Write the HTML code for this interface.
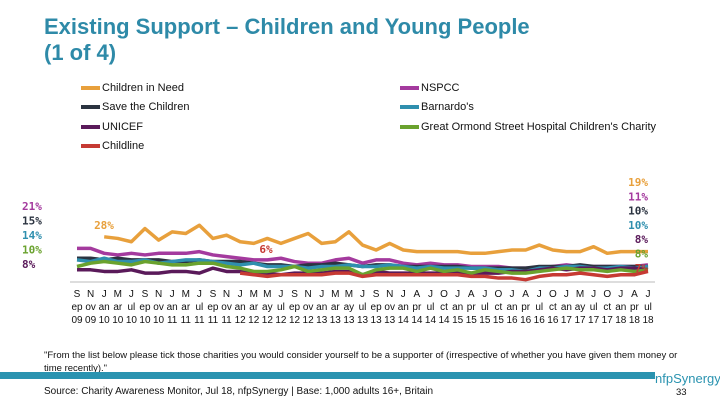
<!DOCTYPE html>
<html><head><meta charset="utf-8"><style>
body{margin:0;width:720px;height:405px;background:#fff;overflow:hidden;font-family:"Liberation Sans",sans-serif;position:relative}
.t{position:absolute;left:44px;top:14px;font-size:22px;font-weight:bold;color:#2e8aa8;line-height:26px}
.lg{position:absolute;font-size:11px;color:#111;display:flex;align-items:center}
.lg i{display:inline-block;width:19px;height:4px;margin-right:2px}
.ft{position:absolute;font-size:9.5px;color:#111}
</style></head><body>
<div class="t">Existing Support – Children and Young People<br>(1 of 4)</div>
<div id="legend"></div>
<svg id="c" width="720" height="405" style="position:absolute;left:0;top:0"></svg>
<div class="ft" style="left:44px;top:349px;width:640px;line-height:13px">"From the list below please tick those charities you would consider yourself to be a supporter of (irrespective of whether you have given them money or time recently)."</div>
<div style="position:absolute;left:0;top:372px;width:655px;height:7px;background:#2a93b0"></div>
<div style="position:absolute;left:655px;top:371px;font-size:13px;color:#2a93b0">nfpSynergy</div>
<div class="ft" style="left:44px;top:386px;font-size:10px">Source: Charity Awareness Monitor, Jul 18, nfpSynergy | Base: 1,000 adults 16+, Britain</div>
<div class="ft" style="left:676px;top:387px">33</div>
<script>
const months=["Sep","Nov","Jan","Mar","Jul","Sep","Nov","Jan","Mar","Jul","Sep","Nov","Jan","Mar","May","Jul","Sep","Nov","Jan","Mar","May","Jul","Sep","Nov","Jan","Apr","Jul","Oct","Jan","Apr","Jul","Oct","Jan","Apr","Jul","Oct","Jan","May","Jul","Oct","Jan","Apr","Jul"];
const years=["09","09","10","10","10","10","10","11","11","11","11","11","12","12","12","12","12","12","13","13","13","13","13","13","14","14","14","14","15","15","15","15","16","16","16","16","17","17","17","17","18","18","18"];
const names=["Children in Need","NSPCC","Save the Children","Barnardo's","UNICEF","Great Ormond Street Hospital Children's Charity","Childline"];
const colors=["#e8a03c","#a43a9e","#2b3340","#2f8fae","#5a1a5a","#6aa22e","#c63a33"];
const startIdx=[2,0,0,0,0,0,12];
const cin=[28,27,25,33,26,31,30,35,27,29,25,24,27,24,27,30,24,25,31,23,20,24,20,19,19,19,19,18,18,19,20,20,23,20,19,19,22,18,19,19,19];
const nspcc=[21,21,18,17,18,17,18,18,18,19,17,16,15,14,14,15,13,12,12,14,15,12,14,14,12,11,12,11,11,10,10,10,9,9,9,10,11,10,10,10,10,10,11];
const stc=[15,15,14,15,14,14,14,13,13,14,13,13,13,12,11,11,10,11,11,12,11,10,11,11,10,10,10,10,10,9,9,9,9,9,10,10,10,11,10,10,10,10,10];
const barn=[14,13,15,13,13,14,12,13,14,14,13,12,11,12,10,10,10,9,10,10,11,10,10,11,10,9,10,9,9,9,9,8,8,7,9,9,10,10,9,9,10,9,10];
const unicef=[8,8,7,7,8,6,6,7,7,6,9,7,7,6,6,5,6,6,6,7,7,5,7,6,6,6,6,6,6,6,6,6,7,7,8,9,8,9,9,8,9,9,8];
const gosh=[10,12,13,12,11,13,12,11,11,12,12,10,9,7,7,8,10,7,8,9,9,5,8,9,9,7,9,7,8,6,8,7,6,6,7,8,9,8,8,7,8,7,8];
const childline=[6,5,4,5,5,5,5,6,6,4,5,5,5,5,5,5,5,4,4,3,3,2,4,5,5,6,5,4,5,5,7];
const series=[cin,nspcc,stc,barn,unicef,gosh,childline];
const x=i=>77+i*(648-77)/42, y=v=>283-v*1.65;
const svg=document.getElementById('c'),NS='http://www.w3.org/2000/svg';
function mk(t,a){const e=document.createElementNS(NS,t);for(const k in a)e.setAttribute(k,a[k]);svg.appendChild(e);return e;}
let ax=mk('line',{x1:70,x2:655,y1:282,y2:282,stroke:'#bbb','stroke-width':1});


months.forEach((m,i)=>{
  [[m[0],297],[m.slice(1,3).toLowerCase(),310],[years[i],323]].forEach(([s,yy],k)=>{
    const t=mk('text',{x:x(i),y:yy,'text-anchor':'middle','font-size':10,fill:'#111','font-family':'Liberation Sans, sans-serif'});
    t.textContent=s;
    
    
  });
});
series.forEach((d,s)=>{
  const p=mk('polyline',{points:d.map((v,j)=>x(j+startIdx[s])+','+y(v)).join(' '),fill:'none',stroke:colors[s],'stroke-width':3.5,'stroke-linejoin':'round'});
  
  
  const e=mk('text',{x:648,y:0,'text-anchor':'end','font-size':11,'font-weight':'bold',fill:colors[s],'font-family':'DejaVu Sans Mono, monospace'});
  e.setAttribute('y',186+s*14.3);
  e.textContent=d[d.length-1]+'%';
  
  
});
const leftIdx=[1,2,3,5,4];
leftIdx.forEach((s,k)=>{
  const t=mk('text',{x:22,y:210+k*14.5,'font-size':11,'font-weight':'bold',fill:colors[s],'font-family':'DejaVu Sans Mono, monospace'});
  t.textContent=series[s][0]+'%';
  
  
});
let t1=mk('text',{x:104,y:229,'text-anchor':'middle','font-size':11,'font-weight':'bold',fill:colors[0],'font-family':'DejaVu Sans Mono, monospace'});
t1.textContent=cin[0]+'%';


let t2=mk('text',{x:266,y:253,'text-anchor':'middle','font-size':11,'font-weight':'bold',fill:colors[6],'font-family':'DejaVu Sans Mono, monospace'});
t2.textContent=childline[0]+'%';


const lgOrder=[[0,81,89],[1,400,89],[2,81,108],[3,400,108],[4,81,128],[5,400,128],[6,81,147]];
const L=document.getElementById('legend');
lgOrder.forEach(([s,lx,ly])=>{
  const d=document.createElement('div');d.className='lg';d.style.left=lx+'px';d.style.top=(ly-7)+'px';
  d.innerHTML='<i style="background:'+colors[s]+'"></i>'+names[s];
  
  
  L.appendChild(d);
});
</script>
</body></html>
